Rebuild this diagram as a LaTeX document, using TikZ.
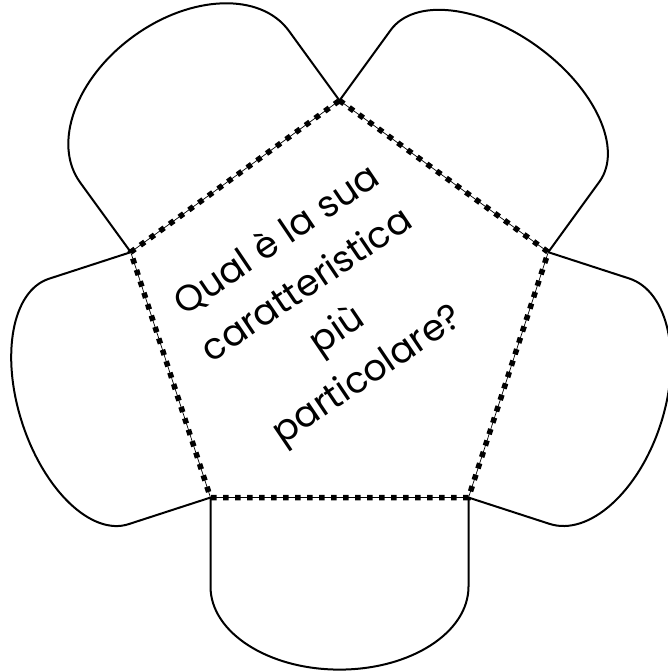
\documentclass[tikz,border=0pt]{standalone}
\usepackage{fontspec}
\setmainfont{Poppins}
\usetikzlibrary{calc}
\begin{document}
\begin{tikzpicture}[x=1pt,y=1pt,
  petal/.style={draw=black,line width=2pt,line join=round},
  base/.style={draw=black,line width=0.7pt},
  fold/.style={draw=black,line width=5.5pt,dash pattern=on 5.5pt off 6.5pt},
  label/.style={align=center,font=\fontsize{36.5}{54}\selectfont,rotate=34}]
\useasboundingbox (0,0) rectangle (668,672);
\coordinate (O) at (339.5,352);
% pentagon vertices
\coordinate (A) at ($(O)+(90:219.5)$);
\coordinate (B) at ($(O)+(18:219.5)$);
\coordinate (C) at ($(O)+(-54:219.5)$);
\coordinate (D) at ($(O)+(-126:219.5)$);
\coordinate (E) at ($(O)+(162:219.5)$);
% petals: rotation, straight side length h, cap depth H
\foreach \rot/\h/\H in {0/89/83, 72/85/75, 144/87/73, 216/86/87, 288/86/70}{
  \begin{scope}[shift={(O)},rotate=\rot]
    \draw[petal] (-129,-177.6) -- (-129,-177.6-\h)
      arc[start angle=180,end angle=360,x radius=129,y radius=\H]
      -- (129,-177.6);
  \end{scope}
}
% fold lines
\draw[base] (A) -- (B) -- (C) -- (D) -- (E) -- cycle;
\draw[fold] (A) -- (B) -- (C) -- (D) -- (E) -- cycle;
\node[label] (q) at (323,363) {Qual è la sua\\caratteristica\\più\\particolare?};
\end{tikzpicture}
\end{document}
